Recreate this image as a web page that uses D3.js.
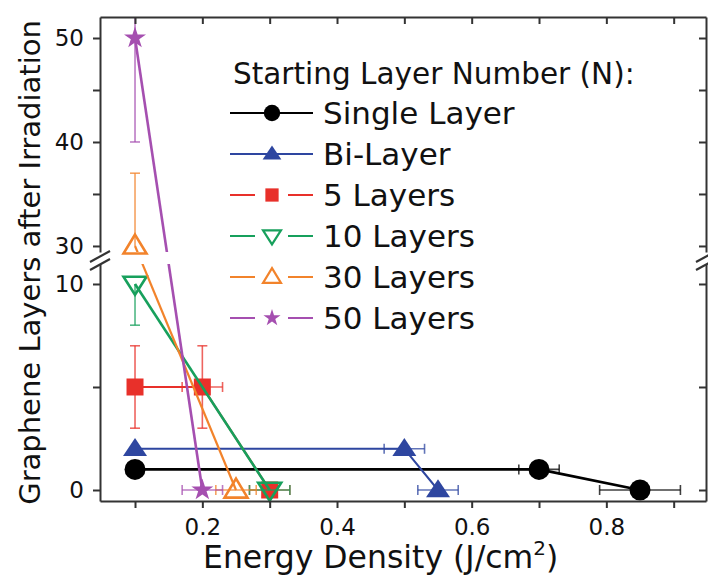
<!DOCTYPE html>
<html>
<head>
<meta charset="utf-8">
<script src="https://cdn.jsdelivr.net/npm/d3@7"></script>
<style>
  body { margin: 0; background: #fff; }
  svg { display: block; font-family: "DejaVu Sans", sans-serif; }
</style>
</head>
<body>
<div id="chart"></div>
<script>
// each point: [energy density, layers after irradiation, xErr, yErrDown, yErrUp]
const seriesNames = ["Single Layer", "Bi-Layer", "5 Layers", "10 Layers", "30 Layers", "50 Layers"];
const singleLayer = [[0.1, 1, 0, 0, 0], [0.7, 1, 0.03, 0, 0], [0.85, 0, 0.06, 0, 0]];
const biLayer = [[0.1, 2, 0, 0, 0], [0.5, 2, 0.03, 0, 0], [0.55, 0, 0.03, 0, 0]];
const fiveLayers = [[0.1, 5, 0, 2, 2], [0.2, 5, 0.03, 2, 2], [0.3, 0, 0.03, 0, 0]];
const tenLayers = [[0.1, 10, 0, 2, 0], [0.3, 0, 0.03, 0, 0]];
const thirtyLayers = [[0.1, 30, 0, 0, 7], [0.25, 0, 0.03, 0, 0]];
const fiftyLayers = [[0.1, 50, 0, 10, 10], [0.2, 0, 0.03, 0, 0]];

const xTicks = [0.1, 0.2, 0.3, 0.4, 0.5, 0.6, 0.7, 0.8, 0.9];
const xTickLabels = ["0.2", "0.4", "0.6", "0.8"];
const yLowTicks = [0, 5, 10];
const yHighTicks = [30, 35, 40, 45, 50];
const yTickLabels = ["0", "10", "30", "40", "50"];

const allSeries = [singleLayer, biLayer, fiveLayers, tenLayers, thirtyLayers, fiftyLayers];

// custom marker shapes (w x h boxes)
const triUp = (w, h) => ({ draw(c) { c.moveTo(0, -h * 0.6); c.lineTo(w / 2, h * 0.4); c.lineTo(-w / 2, h * 0.4); c.closePath(); } });
const triDown = (w, h) => ({ draw(c) { c.moveTo(0, h * 0.6); c.lineTo(w / 2, -h * 0.4); c.lineTo(-w / 2, -h * 0.4); c.closePath(); } });

const styles = [
  {color: "#000000", lw: 2.8, open: false, gap: false, shape: s => d3.symbol(d3.symbolCircle, 346 * s * s)},
  {color: "#2e46a0", lw: 2, open: false, gap: false, shape: s => d3.symbol(triUp(24 * s, 18 * s))},
  {color: "#e8302a", lw: 2.2, open: false, gap: true, shape: s => d3.symbol(d3.symbolSquare, 289 * s * s)},
  {color: "#17a05c", lw: 2.6, open: true, gap: true, shape: s => d3.symbol(triDown(23 * s, 18 * s))},
  {color: "#f2832b", lw: 2.2, open: true, gap: true, shape: s => d3.symbol(triUp(23 * s, 19 * s))},
  {color: "#a54fb0", lw: 2.6, open: false, gap: true, shape: s => d3.symbol(d3.symbolStar, 150 * s * s)}
];

const width = 708, height = 577;
const plotLeft = 100, plotRight = 706, plotTop = 17, plotBottom = 501;
const breakTop = 252, breakBottom = 264;

const x = d3.scaleLinear().domain([0.048, 0.948]).range([plotLeft, plotRight]);
const yHigh = d3.scaleLinear().domain([29.42, 52.02]).range([breakTop, plotTop]);
const yLow = d3.scaleLinear().domain([-0.534, 10.97]).range([plotBottom, breakBottom]);
const y = v => v > 20 ? yHigh(v) : yLow(v);

const svg = d3.select("#chart").append("svg")
  .attr("width", width)
  .attr("height", height);

const defs = svg.append("defs");
defs.append("clipPath").attr("id", "clipHigh").append("rect")
  .attr("x", plotLeft).attr("y", plotTop).attr("width", plotRight - plotLeft).attr("height", breakTop - plotTop);
defs.append("clipPath").attr("id", "clipLow").append("rect")
  .attr("x", plotLeft).attr("y", breakBottom).attr("width", plotRight - plotLeft).attr("height", plotBottom - breakBottom);

const line = d3.line().x(d => x(d[0])).y(d => y(d[1]));

function drawSeries(g, data, st) {
  const eb = g.append("g")
    .attr("stroke", st.color)
    .attr("stroke-opacity", 0.75)
    .attr("stroke-width", 1.6)
    .attr("fill", "none");
  data.forEach(d => {
    const px = x(d[0]), py = y(d[1]);
    if (d[2] > 0) {
      const x0 = x(d[0] - d[2]), x1 = x(d[0] + d[2]);
      eb.append("line").attr("x1", x0).attr("x2", x1).attr("y1", py).attr("y2", py);
      eb.append("line").attr("x1", x0).attr("x2", x0).attr("y1", py - 5).attr("y2", py + 5);
      eb.append("line").attr("x1", x1).attr("x2", x1).attr("y1", py - 5).attr("y2", py + 5);
    }
    if (d[3] > 0 || d[4] > 0) {
      const y0 = y(d[1] - d[3]), y1 = y(d[1] + d[4]);
      eb.append("line").attr("x1", px).attr("x2", px).attr("y1", y0).attr("y2", y1);
      if (d[3] > 0) eb.append("line").attr("x1", px - 5).attr("x2", px + 5).attr("y1", y0).attr("y2", y0);
      if (d[4] > 0) eb.append("line").attr("x1", px - 5).attr("x2", px + 5).attr("y1", y1).attr("y2", y1);
    }
  });
  g.append("path")
    .datum(data)
    .attr("fill", "none")
    .attr("stroke", st.color)
    .attr("stroke-width", st.lw)
    .attr("stroke-linejoin", "round")
    .attr("d", line);
}

const plot = svg.append("g");
allSeries.forEach((data, i) => {
  const st = styles[i];
  drawSeries(plot.append("g").attr("clip-path", "url(#clipHigh)"), data, st);
  drawSeries(plot.append("g").attr("clip-path", "url(#clipLow)"), data, st);
  plot.append("g").selectAll("path")
    .data(data)
    .join("path")
    .attr("transform", d => `translate(${x(d[0])},${y(d[1])})`)
    .attr("d", st.shape(1))
    .attr("fill", st.open ? "none" : st.color)
    .attr("stroke", st.color)
    .attr("stroke-width", st.open ? 2.6 : 0);
});

// axes
const axisColor = "#333";
function styleAxis(g) {
  g.select(".domain").attr("stroke", axisColor).attr("stroke-width", 2);
  g.selectAll(".tick line").attr("stroke", axisColor).attr("stroke-width", 2);
  g.selectAll(".tick text").attr("fill", "#111").attr("font-size", "23px").attr("font-family", "DejaVu Sans, sans-serif");
}
const fmtX = d => { const s = d3.format(".1f")(d); return xTickLabels.includes(s) ? s : ""; };
const fmtY = d => { const s = String(d); return yTickLabels.includes(s) ? s : ""; };

svg.append("g")
  .attr("transform", `translate(0,${plotBottom})`)
  .call(d3.axisBottom(x).tickValues(xTicks).tickSize(7).tickSizeOuter(0).tickPadding(11).tickFormat(fmtX))
  .call(styleAxis);
svg.append("g")
  .attr("transform", `translate(0,${plotTop})`)
  .call(d3.axisTop(x).tickValues(xTicks).tickSize(-7).tickSizeOuter(0).tickFormat(""))
  .call(styleAxis);
[[yHigh, yHighTicks], [yLow, yLowTicks]].forEach(([sc, tv]) => {
  svg.append("g")
    .attr("transform", `translate(${plotLeft},0)`)
    .call(d3.axisLeft(sc).tickValues(tv).tickSize(7).tickSizeOuter(0).tickPadding(9).tickFormat(fmtY))
    .call(styleAxis);
  svg.append("g")
    .attr("transform", `translate(${plotRight},0)`)
    .call(d3.axisRight(sc).tickValues(tv).tickSize(-7).tickSizeOuter(0).tickFormat(""))
    .call(styleAxis);
});

// break marks
[plotLeft, plotRight].forEach(ax => {
  const bk = svg.append("g").attr("stroke", axisColor).attr("stroke-width", 2.2);
  [0, 8].forEach(off => {
    bk.append("line")
      .attr("x1", ax - 10).attr("y1", breakBottom - 2 + off)
      .attr("x2", ax + 10).attr("y2", breakTop - 1 + off);
  });
});

// axis titles
const xTitle = svg.append("text")
  .attr("x", 203).attr("y", 568)
  .attr("font-size", "31.5px")
  .attr("fill", "#111");
xTitle.append("tspan").text("Energy Density (J/cm");
xTitle.append("tspan").attr("font-size", "20px").attr("dy", -13).text("2");
xTitle.append("tspan").attr("dy", 13).text(")");

svg.append("text")
  .attr("transform", `translate(40,${(18 + 507) / 2}) rotate(-90)`)
  .attr("text-anchor", "middle")
  .attr("font-size", "29px")
  .attr("fill", "#111")
  .text("Graphene Layers after Irradiation");

// legend
const legend = svg.append("g");
legend.append("text")
  .attr("x", 233).attr("y", 84)
  .attr("font-size", "29.5px")
  .attr("fill", "#111")
  .text("Starting Layer Number (N):");
seriesNames.forEach((name, i) => {
  const st = styles[i];
  const cy = 113 + i * 41;
  const row = legend.append("g");
  const segs = st.gap ? [[230, 255], [288, 313]] : [[230, 313]];
  segs.forEach(([a, b]) => {
    row.append("line")
      .attr("x1", a).attr("x2", b).attr("y1", cy).attr("y2", cy)
      .attr("stroke", st.color).attr("stroke-width", 2);
  });
  row.append("path")
    .attr("transform", `translate(272,${cy})`)
    .attr("d", st.shape(0.78))
    .attr("fill", st.open ? "#fff" : st.color)
    .attr("stroke", st.color)
    .attr("stroke-width", st.open ? 2.2 : 0);
  row.append("text")
    .attr("x", 323).attr("y", cy + 11)
    .attr("font-size", "31px")
    .attr("fill", "#111")
    .text(name);
});
</script>
</body>
</html>
